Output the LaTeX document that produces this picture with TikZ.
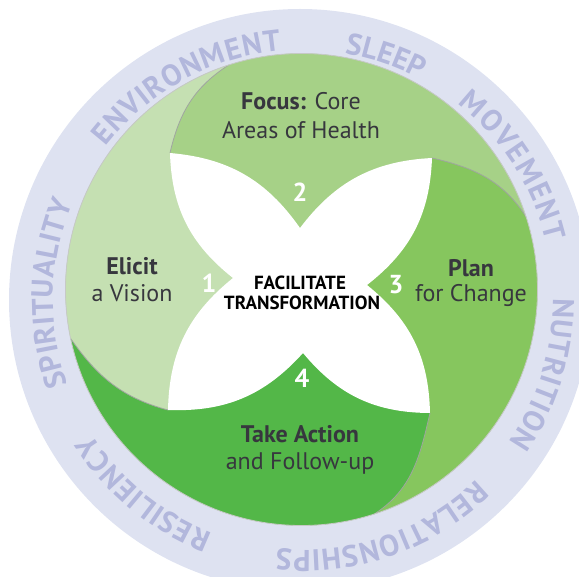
\documentclass[tikz,border=0pt]{standalone}
\usepackage{fontspec}
\setmainfont{PT Sans}
\usetikzlibrary{decorations.text}
\definecolor{ringfill}{RGB}{222,226,241}
\definecolor{ringtext}{RGB}{178,183,220}
\definecolor{cElicit}{RGB}{197,224,178}
\definecolor{cFocus}{RGB}{166,209,135}
\definecolor{cPlan}{RGB}{134,198,94}
\definecolor{cAction}{RGB}{83,183,72}
\definecolor{txt}{RGB}{55,55,62}
\definecolor{edgegray}{RGB}{160,165,160}
\newcommand\ringfnt{\fontsize{30}{30}\selectfont\bfseries}
\newcommand\ringword[3]{\path[decorate,decoration={text along path,text align={fit to path},text color=ringtext,text={|\ringfnt|#3}}] (TC) ++(#1:250) arc[start angle=#1,end angle=#2,radius=250];}
\begin{document}
\begin{tikzpicture}[x=1pt,y=1pt,
  lbl/.style={text=txt,font=\fontsize{24}{28}\selectfont,inner sep=0pt,anchor=center},
  num/.style={text=white,font=\fontsize{26}{26}\selectfont\bfseries,inner sep=0pt},
  ctr/.style={text=black,font=\fontsize{19}{22}\selectfont\bfseries,inner sep=0pt},
  seam/.style={draw=edgegray,line width=0.8}]
\useasboundingbox (0,0) rectangle (579,-577);
\clip (0,0) rectangle (579,-577);
\coordinate (G) at (301.5,-289.5);
\coordinate (RC) at (300,-300);
\coordinate (TC) at (303,-300);
\coordinate (CTL) at (170,-153);
\coordinate (CTR) at (432,-158);
\coordinate (CBR) at (430,-413);
\coordinate (CBL) at (168,-410);
\coordinate (NT) at (300,-228);
\coordinate (NR) at (367,-285);
\coordinate (NB) at (303,-353);
\coordinate (NL) at (233,-278);
\path (G) ++(108:236) coordinate (TTL);
\path (G) ++(18:236) coordinate (TTR);
\path (G) ++(-72:236) coordinate (TBR);
\path (G) ++(192:236) coordinate (TBL);
% ring
\fill[ringfill] (RC) circle[radius=291];
\fill[cFocus] (G) circle[radius=236];
% regions
\fill[cFocus] (CTL) to[out=77,in=213] (TTL) arc[start angle=108,end angle=18,radius=236] to[out=123,in=-13] (CTR) -- (G) -- cycle;
\fill[cPlan] (CTR) to[out=-13,in=123] (TTR) arc[start angle=18,end angle=-72,radius=236] to[out=33,in=-103] (CBR) -- (G) -- cycle;
\fill[cAction] (CBR) to[out=-103,in=33] (TBR) arc[start angle=-72,end angle=-168,radius=236] to[out=-55,in=165] (CBL) -- (G) -- cycle;
\fill[cElicit] (CBL) to[out=165,in=-55] (TBL) arc[start angle=192,end angle=108,radius=236] to[out=213,in=77] (CTL) -- (G) -- cycle;
% seams
\draw[seam] (CTL) to[out=77,in=213] (TTL);
\draw[seam] (CTR) to[out=-13,in=123] (TTR);
\draw[seam] (CBR) to[out=-103,in=33] (TBR);
\draw[seam] (CBL) to[out=165,in=-55] (TBL);
\draw[draw=edgegray!60,line width=0.8] (G) circle[radius=236];
% white flower
\fill[white] (CTL) to[bend left=25] (NT) to[bend left=25] (CTR) to[bend left=25] (NR) to[bend left=25] (CBR) to[bend left=25] (NB) to[bend left=25] (CBL) to[bend left=25] (NL) to[bend left=25] (CTL) -- cycle;
% ring words
\ringword{199.8}{157.1}{SPIRITUALITY}
\ringword{142}{95}{ENVIRONMENT}
\ringword{80.4}{62.2}{SLEEP}
\ringword{51.8}{13.5}{MOVEMENT}
\ringword{0.4}{-34.6}{NUTRITION}
\ringword{-46}{-96}{RELATIONSHIPS}
\ringword{-111.3}{-147.7}{RESILIENCY}
% labels
\node[lbl] (focusA) at (301,-101) {\textbf{Focus:} Core};
\node[lbl] (focusB) at (301,-130) {Areas of Health};
\node[lbl] (elicitA) at (132,-266) {\textbf{Elicit}};
\node[lbl] (elicitB) at (132,-293) {a Vision};
\node[lbl] (planA) at (471,-268) {\textbf{Plan}};
\node[lbl] (planB) at (471,-296) {for Change};
\node[lbl] (actA) at (300,-434) {\textbf{Take Action}};
\node[lbl] (actB) at (300,-464) {and Follow-up};
\node[ctr] (facA) at (300,-283) {FACILITATE};
\node[ctr] (facB) at (302,-303) {TRANSFORMATION};
\node[num] (n1) at (209,-283) {1};
\node[num] (n2) at (300,-192) {2};
\node[num] (n3) at (396,-285) {3};
\node[num] (n4) at (302,-378) {4};
\end{tikzpicture}
\end{document}
